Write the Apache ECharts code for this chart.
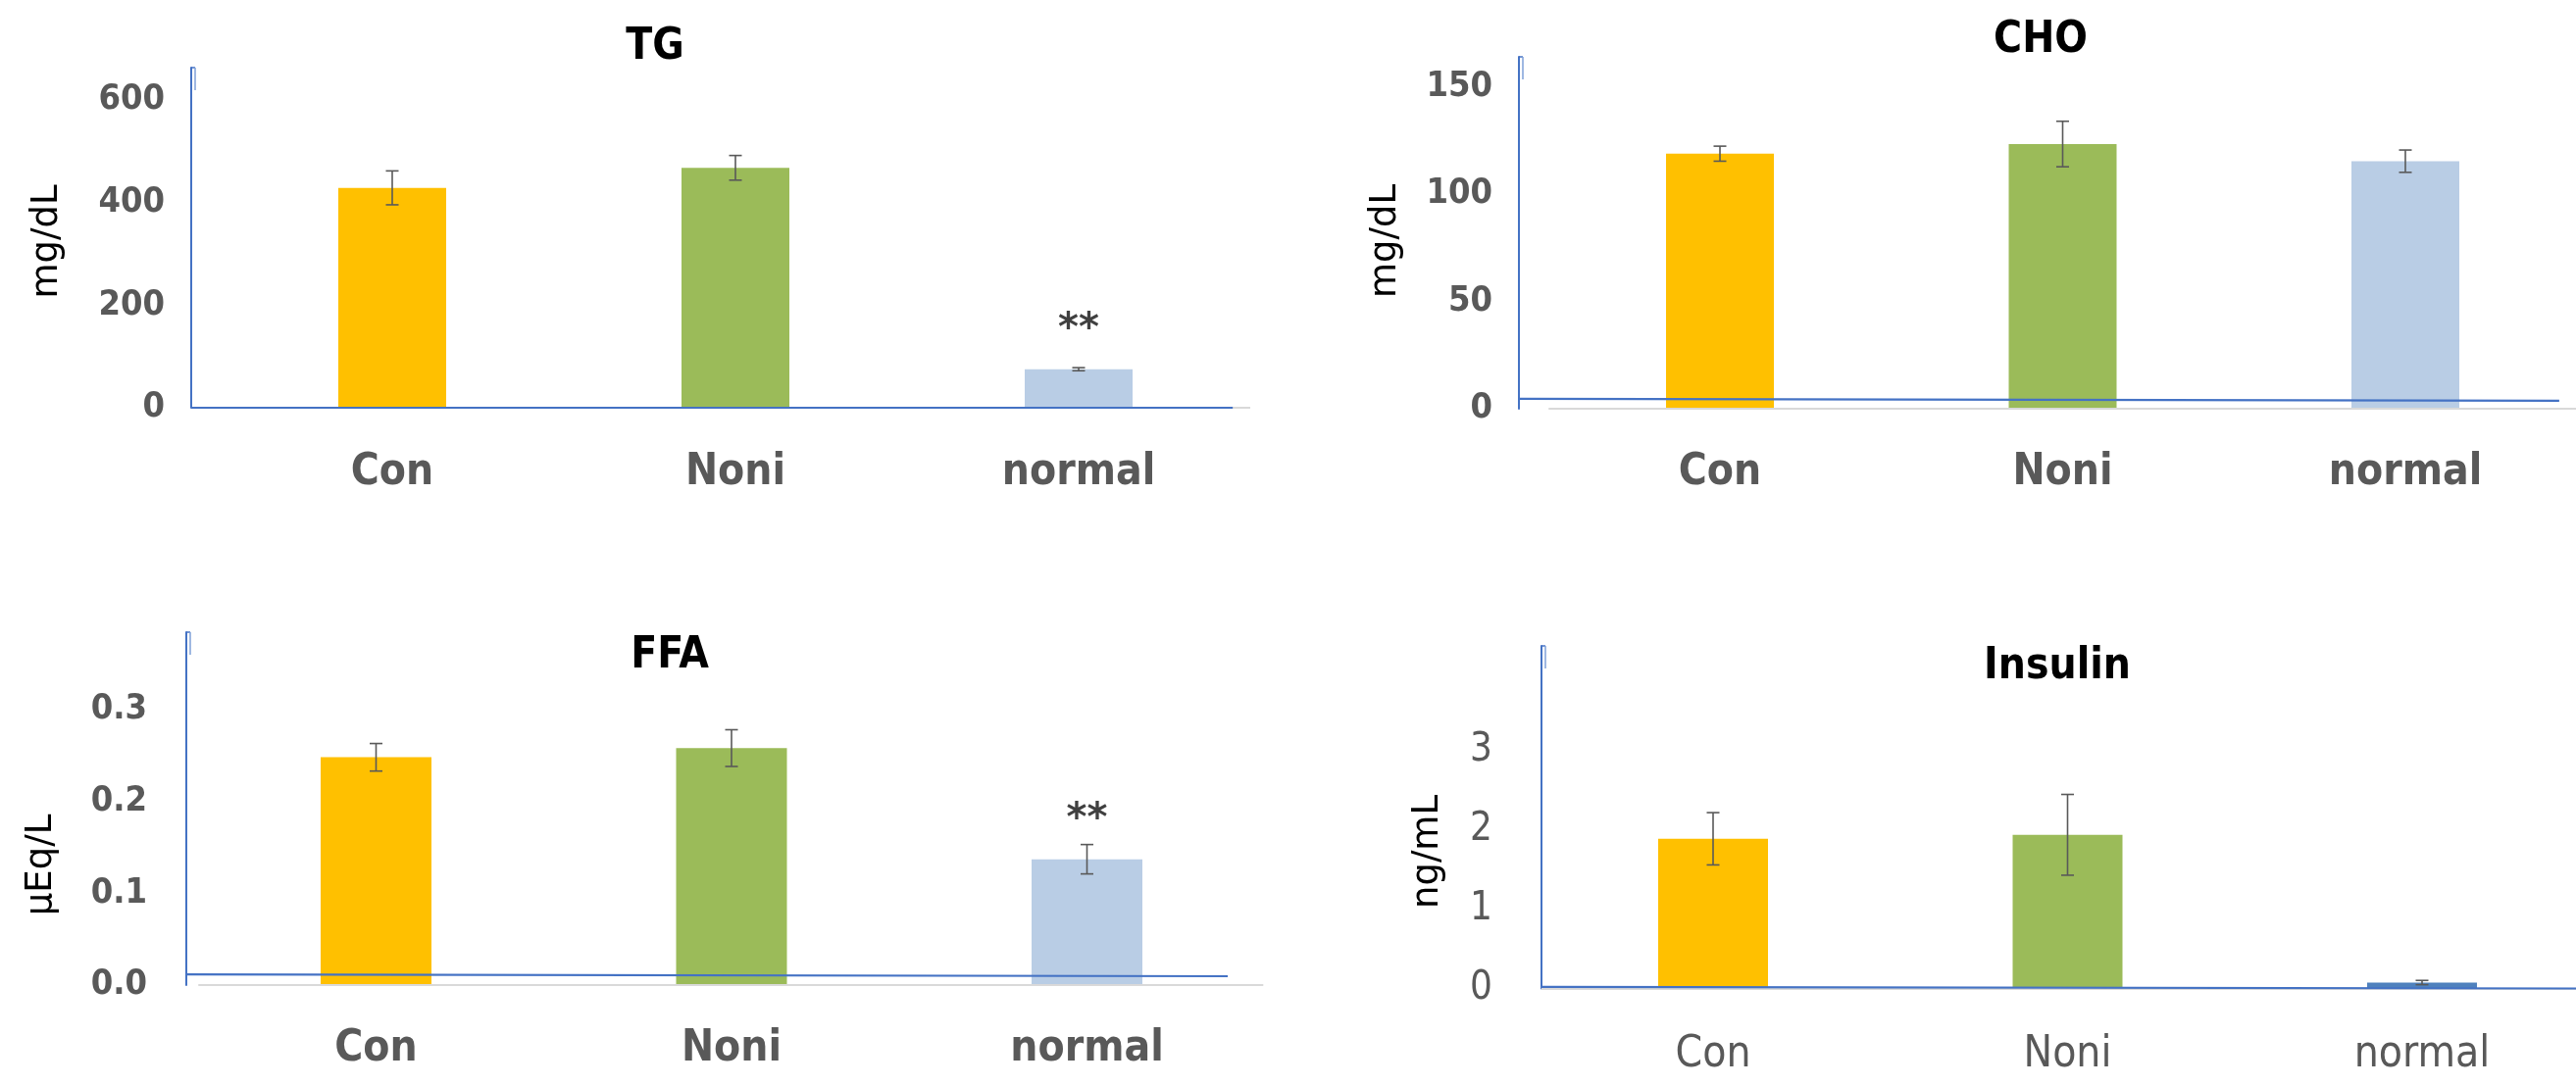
<!DOCTYPE html>
<html><head><meta charset="utf-8">
<script src="https://cdn.jsdelivr.net/npm/echarts@6/dist/echarts.min.js"></script>
<style>html,body{margin:0;padding:0;background:#fff}#c{width:2627px;height:1108px}</style>
</head><body><div id="c"></div>
<script>
// ---- data ----
const categories = ['Con', 'Noni', 'normal'];

const tgValues = [428, 467, 75];
const tgErrors = [33, 24, 3];
const tgSig = ['', '', '**'];
const tgTicks = [0, 200, 400, 600];

const choValues = [118.8, 123.3, 115.3];
const choErrors = [3.5, 10.6, 5.2];
const choSig = ['', '', ''];
const choTicks = [0, 50, 100, 150];

const ffaValues = [0.248, 0.258, 0.137];
const ffaErrors = [0.015, 0.020, 0.016];
const ffaSig = ['', '', '**'];
const ffaTicks = [0.0, 0.1, 0.2, 0.3];

const insValues = [1.89, 1.94, 0.075];
const insErrors = [0.33, 0.51, 0.027];
const insSig = ['', '', ''];
const insTicks = [0, 1, 2, 3];

// ---- styles ----
const lightColors = ['#FFC000', '#9BBB59', '#B9CDE5'];
const insColors = ['#FFC000', '#9BBB59', '#4F81BD'];
const FONT = "'DejaVu Sans Condensed', 'Liberation Sans Narrow', 'DejaVu Sans', sans-serif";
const UNIT_FONT = "'DejaVu Sans', sans-serif";
const AXIS_BLUE = '#4472C4';
const GRAY_BASE = '#D9D9D9';

const panels = [
  { title: 'TG', unit: 'mg/dL', values: tgValues, errors: tgErrors, sig: tgSig, ticks: tgTicks, dec: 0, colors: lightColors,
    grid: { left: 195, top: 69, width: 1080, height: 347 }, xMin: -0.5857, xMax: 2.5, yMax: 662,
    blue: [0, 0], blueEnd: 2.449, grayStart: -0.5, grayEnd: 2.5, hookDx: 0.0114, hookY: 618,
    titlePos: [668, 49], unitPos: [48, 246.5], tickMargin: 27, tickSize: 36, tickWeight: 'bold',
    catSize: 44, catWeight: 'bold', catMargin: 45, barWidth: 110 },
  { title: 'CHO', unit: 'mg/dL', values: choValues, errors: choErrors, sig: choSig, ticks: choTicks, dec: 0, colors: lightColors,
    grid: { left: 1549, top: 58, width: 1078, height: 359 }, xMin: -0.5866, xMax: 2.4979, yMax: 163.9,
    blue: [4.6, 3.7], blueEnd: 2.449, grayStart: -0.5, grayEnd: 2.4979, hookDx: 0.0114, hookY: 153.4,
    titlePos: [2081, 42], unitPos: [1413, 246], tickMargin: 27, tickSize: 36, tickWeight: 'bold',
    catSize: 44, catWeight: 'bold', catMargin: 44, barWidth: 110 },
  { title: 'FFA', unit: 'μEq/L', values: ffaValues, errors: ffaErrors, sig: ffaSig, ticks: ffaTicks, dec: 1, colors: lightColors,
    grid: { left: 190, top: 645, width: 1099.75, height: 360 }, xMin: -0.5338, xMax: 2.5, yMax: 0.3842,
    blue: [0.0117, 0.0096], blueEnd: 2.396, grayStart: -0.5, grayEnd: 2.496, hookDx: 0.011, hookY: 0.3597,
    titlePos: [683, 670], unitPos: [42, 882.5], tickMargin: 40, tickSize: 36, tickWeight: 'bold',
    catSize: 44, catWeight: 'bold', catMargin: 44, barWidth: 113 },
  { title: 'Insulin', unit: 'ng/mL', values: insValues, errors: insErrors, sig: insSig, ticks: insTicks, dec: 0, colors: insColors,
    grid: { left: 1572, top: 659, width: 1055, height: 349.5 }, xMin: -0.4841, xMax: 2.4343, yMax: 4.325,
    blue: [0.02, 0], blueEnd: 2.4343, grayStart: -0.4841, grayEnd: 2.4343, hookDx: 0.011, hookY: 4.04,
    titlePos: [2098, 681], unitPos: [1456, 869], tickMargin: 50, tickSize: 40, tickWeight: 'normal',
    catSize: 44, catWeight: 'normal', catMargin: 46, barWidth: 112 }
];

const chart = echarts.init(document.getElementById('c'), null, { renderer: 'canvas' });

const grid = [], xAxis = [], yAxis = [], series = [], graphic = [];

panels.forEach((p, i) => {
  grid.push(Object.assign({ containLabel: false }, p.grid));
  xAxis.push({
    gridIndex: i, type: 'value', min: p.xMin, max: p.xMax,
    axisLine: { show: false }, axisTick: { show: false }, splitLine: { show: false },
    axisLabel: {
      customValues: [0, 1, 2],
      formatter: v => (Math.abs(v - Math.round(v)) < 1e-6 && categories[Math.round(v)]) || '',
      margin: p.catMargin, color: '#595959', fontFamily: FONT, fontSize: p.catSize, fontWeight: p.catWeight
    }
  });
  yAxis.push({
    gridIndex: i, type: 'value', min: 0, max: p.yMax, interval: p.ticks[1] - p.ticks[0],
    axisLine: { show: true, onZero: false, lineStyle: { color: AXIS_BLUE, width: 2 } },
    axisTick: { show: false }, splitLine: { show: false },
    axisLabel: {
      customValues: p.ticks,
      formatter: v => Number(v).toFixed(p.dec),
      margin: p.tickMargin, color: '#595959', fontFamily: FONT, fontSize: p.tickSize, fontWeight: p.tickWeight
    }
  });
  series.push({
    type: 'bar', xAxisIndex: i, yAxisIndex: i, barWidth: p.barWidth, z: 2,
    data: p.values.map((v, k) => ({ value: [k, v], itemStyle: { color: p.colors[k] } })),
    markLine: {
      silent: true, symbol: 'none', animation: false, label: { show: false },
      data: [
        [{ coord: [p.grayStart, 0], lineStyle: { color: GRAY_BASE, width: 2, type: 'solid' } }, { coord: [p.grayEnd, 0] }]
      ]
    }
  });
  series.push({
    type: 'custom', xAxisIndex: i, yAxisIndex: i, z: 4,
    data: p.values.map((v, k) => [k, v, p.errors[k]]),
    renderItem: (params, api) => {
      const k = api.value(0), v = api.value(1), e = api.value(2);
      const top = api.coord([k, v + e]);
      const bot = api.coord([k, v - e]);
      const mid = api.coord([k, v]);
      const cap = 6.5;
      const st = { stroke: '#595959', lineWidth: 1.6 };
      const children = [
        { type: 'line', shape: { x1: top[0], y1: top[1], x2: bot[0], y2: bot[1] }, style: st },
        { type: 'line', shape: { x1: top[0] - cap, y1: top[1], x2: top[0] + cap, y2: top[1] }, style: st },
        { type: 'line', shape: { x1: bot[0] - cap, y1: bot[1], x2: bot[0] + cap, y2: bot[1] }, style: st }
      ];
      const s = p.sig[params.dataIndex];
      if (s) {
        children.push({ type: 'text', x: mid[0], y: mid[1] - 40,
          style: { text: s, fill: '#404040', fontFamily: UNIT_FONT, fontWeight: 'bold', fontSize: 40, align: 'center', verticalAlign: 'middle' } });
      }
      return { type: 'group', children };
    },
    markLine: {
      silent: true, symbol: 'none', animation: false, label: { show: false },
      data: [
        [{ coord: [p.xMin, p.blue[0]], lineStyle: { color: AXIS_BLUE, width: 2.2, type: 'solid' } }, { coord: [p.blueEnd, p.blue[1]] }],
        [{ coord: [p.xMin, p.yMax], lineStyle: { color: AXIS_BLUE, width: 1.5, type: 'solid' } }, { coord: [p.xMin + p.hookDx, p.yMax] }],
        [{ coord: [p.xMin + p.hookDx, p.yMax], lineStyle: { color: '#7FA0D8', width: 1.5, type: 'solid' } }, { coord: [p.xMin + p.hookDx, p.hookY] }]
      ]
    }
  });
  graphic.push({
    type: 'text', x: p.titlePos[0], y: p.titlePos[1],
    style: { text: p.title, fill: '#000', fontFamily: FONT, fontWeight: 'bold', fontSize: 44, align: 'center', verticalAlign: 'middle' }
  });
  graphic.push({
    type: 'text', x: p.unitPos[0], y: p.unitPos[1], rotation: Math.PI / 2,
    style: { text: p.unit, fill: '#000', fontFamily: UNIT_FONT, fontSize: 37, align: 'center', verticalAlign: 'middle' }
  });
});

chart.setOption({
  animation: false,
  backgroundColor: '#ffffff',
  grid, xAxis, yAxis, series, graphic
});
</script>
</body></html>
